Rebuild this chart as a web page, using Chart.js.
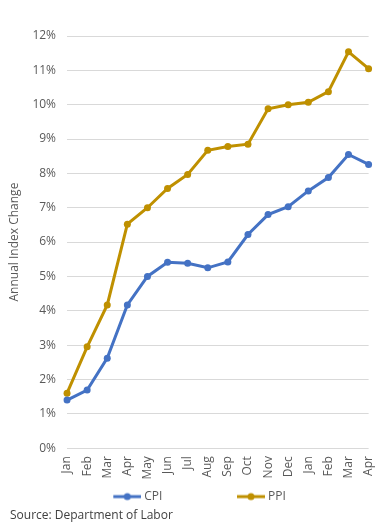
<!DOCTYPE html>
<html><head><meta charset="utf-8">
<script src="https://cdn.jsdelivr.net/npm/chart.js@4/dist/chart.umd.min.js"></script>
<style>html,body{margin:0;padding:0;background:#fff}#wrap{width:391px;height:528px}</style>
</head><body><div id="wrap"><canvas id="c"></canvas></div>
<script>
const categories = ["Jan","Feb","Mar","Apr","May","Jun","Jul","Aug","Sep","Oct","Nov","Dec","Jan","Feb","Mar","Apr"];
const cpi = [1.40,1.69,2.62,4.17,5.00,5.41,5.38,5.25,5.42,6.22,6.80,7.03,7.49,7.88,8.55,8.26];
const ppi = [1.60,2.95,4.17,6.52,7.00,7.56,7.97,8.67,8.78,8.85,9.88,10.00,10.07,10.38,11.54,11.05];
const yTicks = [0,1,2,3,4,5,6,7,8,9,10,11,12];
const SOURCE = 'Source: Department of Labor';
const FONT = "'Open Sans', sans-serif";
const FS = 12;

function legendIcon(color){
  const s = 3;
  const cv = document.createElement('canvas');
  cv.width = 28 + 2*s; cv.height = 10;
  const x = cv.getContext('2d');
  x.strokeStyle = color; x.lineWidth = 3;
  x.beginPath(); x.moveTo(2*s,5); x.lineTo(28+2*s,5); x.stroke();
  x.fillStyle = color; x.beginPath(); x.arc(14+2*s,5,3.5,0,Math.PI*2); x.fill();
  return cv;
}
// pad legend text with trailing spaces so items sit as far apart as in the reference
function padText(t, target){
  const m = document.createElement('canvas').getContext('2d');
  m.font = FS + "px " + FONT;
  let s = t;
  while (m.measureText(s + ' ').width <= target) s += ' ';
  return s;
}

const nudge = {
  id:'nudge',
  afterLayout(chart){
    chart.boxes.forEach(b=>{
      if (b === chart.legend) { b.left += 5; b.right += 5; }
      else if (b.options && b.options.text === SOURCE) { b.left += 3; b.right += 3; }
    });
  }
};

new Chart(document.getElementById('c'), {
  type: 'line',
  data: {
    labels: categories,
    datasets: [
      {label:'CPI', data: cpi, borderColor:'#4472C4', backgroundColor:'#4472C4', borderWidth:3, pointRadius:3.5, pointBorderWidth:0, tension:0, pointStyle:'circle'},
      {label:'PPI', data: ppi, borderColor:'#BF9000', backgroundColor:'#BF9000', borderWidth:3, pointRadius:3.5, pointBorderWidth:0, tension:0, pointStyle:'circle'}
    ]
  },
  plugins:[nudge],
  options: {
    responsive:true, maintainAspectRatio:false, animation:false,
    layout:{padding:{left:7,right:12,top:36,bottom:0}},
    scales:{
      x:{
        grid:{display:false,drawTicks:false}, border:{display:false},
        ticks:{minRotation:90,maxRotation:90,autoSkip:false,color:'#595959',font:{family:FONT,size:FS},padding:8}
      },
      y:{
        min:0,max:12,
        afterBuildTicks:(ax)=>{ax.ticks = yTicks.map(v=>({value:v}));},
        grid:{color:'#d9d9d9',lineWidth:1,drawTicks:false}, border:{display:false},
        ticks:{callback:v=>v+'%',color:'#595959',font:{family:FONT,size:FS},padding:11},
        title:{display:true,text:'Annual Index Change',color:'#595959',font:{family:FONT,size:FS},padding:{top:0,bottom:0}}
      }
    },
    plugins:{
      legend:{position:'bottom',labels:{usePointStyle:true,pointStyleWidth:28,padding:3,color:'#595959',font:{family:FONT,size:FS},
        generateLabels:(chart)=>chart.data.datasets.map((d,i)=>({text:i===0?padText(d.label,89):d.label,pointStyle:legendIcon(d.borderColor),fillStyle:d.borderColor,strokeStyle:d.borderColor,lineWidth:0,datasetIndex:i,fontColor:'#595959'}))}},
      subtitle:{display:true,position:'bottom',align:'start',text:SOURCE,color:'#404040',font:{family:FONT,size:FS,weight:'normal'},padding:{top:-4,bottom:5}},
      tooltip:{enabled:false}
    }
  }
});
</script></body></html>
